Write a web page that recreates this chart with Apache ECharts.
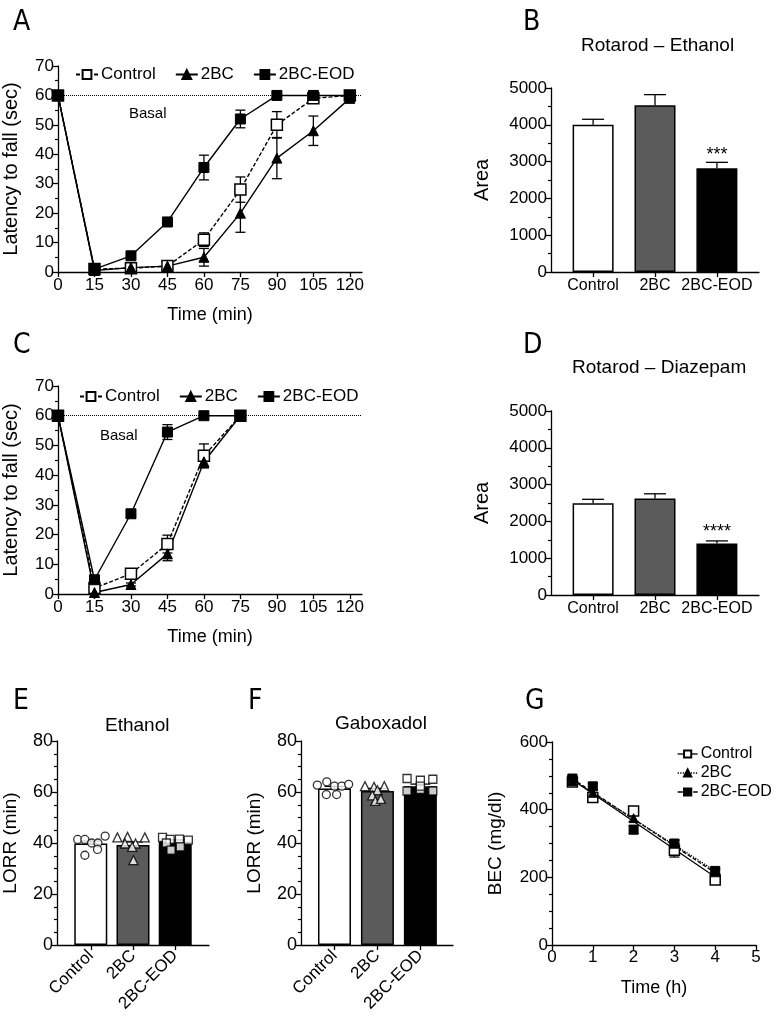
<!DOCTYPE html>
<html><head><meta charset="utf-8">
<script src="https://cdn.jsdelivr.net/npm/echarts@6/dist/echarts.min.js"></script>
<style>html,body{margin:0;padding:0;background:#fff}#c{width:780px;height:1021px}</style>
</head><body><div id="c"></div>
<script>
// ---------- DATA ----------
const timesA = [0, 15, 30, 45, 60, 75, 90, 105, 120];
const aControl = [60, 1, 1.3, 2, 11, 28, 50, 59, 60];
const aControlErr = [0, 0, 0, 0.5, 2.3, 4.3, 4.5, 1, 0.5];
const a2BC = [60, 0.5, 1.5, 2, 5, 20, 38.7, 48, 59];
const a2BCErr = [0, 0, 0, 0, 3, 6.5, 7, 5, 1];
const aEOD = [60, 1, 5.5, 17, 35.5, 52, 60, 60, 60];
const aEODErr = [0, 0, 0.8, 1.5, 4.2, 3, 0, 0, 0];

const timesC = [0, 15, 30, 45, 60, 75];
const cControl = [60, 2, 6.8, 16.8, 46.5, 60];
const cControlErr = [0, 0, 1.5, 3, 4, 0];
const c2BC = [60, 0.5, 3.2, 13.5, 44.5, 60];
const c2BCErr = [0, 0, 0.5, 2.3, 2, 0];
const cEOD = [60, 4.8, 27, 54.5, 60, 60];
const cEODErr = [0, 0, 1.2, 2.5, 0, 0];

const timeTicks = [0, 15, 30, 45, 60, 75, 90, 105, 120];
const groups = ['Control', '2BC', '2BC-EOD'];
const groupPos = [0, 1, 2];

const bMean = [4000, 4530, 2820];
const bErr = [150, 290, 160];
const bSig = ['', '', '***'];
const dMean = [2490, 2620, 1400];
const dErr = [110, 130, 70];
const dSig = ['', '', '****'];

const eMean = [39.8, 39.2, 40.5];
const eErr = [1.0, 1.2, 0.7];
const eCtrlPts = [41.4, 41.4, 40, 40, 42.7, 35.2, 37.5];
const eCtrlJit = [-0.31, -0.14, 0.02, 0.17, 0.34, -0.14, 0.16];
const e2BCPts = [42.2, 42.4, 42.2, 39.8, 39.8, 38.5, 33.3];
const e2BCJit = [-0.37, -0.13, 0.28, -0.19, 0.06, -0.02, 0.01];
const eEODPts = [42.2, 41.4, 41.5, 41.1, 40, 37.2, 38.5];
const eEODJit = [-0.30, -0.12, 0.10, 0.31, -0.21, -0.10, 0.12];

const fMean = [61.4, 60.4, 62.3];
const fErr = [0.8, 1.0, 0.8];
const fCtrlPts = [62.7, 64, 62.3, 62.3, 63, 59, 59];
const fCtrlJit = [-0.40, -0.18, 0, 0.17, 0.33, -0.19, 0.05];
const f2BCPts = [62.3, 62, 62.3, 60.7, 58.7, 56.5, 57.3];
const f2BCJit = [-0.29, -0.08, 0.16, 0, -0.12, -0.05, 0.08];
const fEODPts = [65.3, 64.6, 65, 60.4, 61, 60.4, 62.3];
const fEODJit = [-0.31, 0, 0.29, -0.31, 0, 0.29, 0];

const gTimes = [0.5, 1, 2, 3, 4];
const gControl = [482, 436, 396, 280, 192];
const gControlErr = [12, 12, 8, 20, 8];
const g2BC = [485, 450, 375, 300, 215];
const g2BCErr = [10, 10, 10, 10, 8];
const gEOD = [492, 469, 341, 300, 219];
const gEODErr = [10, 10, 12, 10, 8];
const gFitX = [0.5, 4];
const gFitControl = [488.6, 201.2];
const gFit2BC = [487.9, 219];
const gFitEOD = [491.2, 213.3];

// ---------- HELPERS ----------
const FONT = 'Liberation Sans, Arial, Helvetica, sans-serif';
const NARROW = 'Liberation Sans Narrow, DejaVu Sans Condensed, Liberation Sans, sans-serif';
const BLK = '#000';
const axisCommon = {
  axisLine: { show: true, onZero: false, lineStyle: { color: BLK, width: 1.3 } },
  axisTick: { show: true, length: 5, lineStyle: { color: BLK, width: 1.3 } },
  axisLabel: { color: BLK, fontSize: 17, fontFamily: FONT, margin: 4, formatter: v => String(v) },
  splitLine: { show: false },
  nameTextStyle: { color: BLK, fontSize: 18, fontFamily: FONT }
};
function yAx(grid, min, max, interval, minorSplit, name, gap, fs, nfs) {
  return Object.assign({}, axisCommon, {
    type: 'value', gridIndex: grid, min, max, interval,
    name, nameLocation: 'middle', nameGap: gap, nameRotate: 90,
    nameTextStyle: { color: BLK, fontSize: nfs || 18, fontFamily: FONT },
    axisLabel: Object.assign({}, axisCommon.axisLabel, { fontSize: fs || 17 }),
    minorTick: { show: true, splitNumber: minorSplit, length: 3, lineStyle: { color: BLK, width: 1.2 } }
  });
}
function zip(xs, ys) { return xs.map((x, i) => [x, ys[i]]); }
function errSeries(xi, xs, ys, es, cap, upOnly, stars, starGap) {
  return {
    type: 'custom', xAxisIndex: xi, yAxisIndex: xi, z: 1, silent: true,
    data: xs.map((x, i) => [x, ys[i], es[i], i]),
    renderItem: function (params, api) {
      const x = api.value(0), y = api.value(1), e = api.value(2), i = api.value(3);
      const top = api.coord([x, y + e]);
      const bot = api.coord([x, upOnly ? y : y - e]);
      const st = { stroke: BLK, lineWidth: 1.3 };
      const ch = [];
      if (e > 0) {
        ch.push({ type: 'line', shape: { x1: top[0], y1: top[1], x2: bot[0], y2: bot[1] }, style: st });
        ch.push({ type: 'line', shape: { x1: top[0] - cap, y1: top[1], x2: top[0] + cap, y2: top[1] }, style: st });
        if (!upOnly) ch.push({ type: 'line', shape: { x1: bot[0] - cap, y1: bot[1], x2: bot[0] + cap, y2: bot[1] }, style: st });
      }
      if (stars && stars[i]) {
        ch.push({ type: 'text', style: { text: stars[i], x: top[0], y: top[1] - starGap, align: 'center', verticalAlign: 'middle', fontSize: 18, fontFamily: FONT, fill: BLK } });
      }
      return { type: 'group', children: ch };
    }
  };
}
const sqOpen = { color: '#fff', borderColor: BLK, borderWidth: 1.5 };
const filled = { color: BLK, borderColor: BLK, borderWidth: 1 };
function lineSeries(name, xi, xs, ys, symbol, size, itemStyle, dash) {
  return {
    type: 'line', name, xAxisIndex: xi, yAxisIndex: xi, z: 3,
    data: zip(xs, ys), symbol, symbolSize: size, showAllSymbol: true,
    itemStyle, lineStyle: { color: BLK, width: 1.4, type: dash || 'solid' }
  };
}
function barSeries(xi, means, width) {
  const cols = ['#fff', '#5b5b5b', '#000'];
  return {
    type: 'bar', xAxisIndex: xi, yAxisIndex: xi, z: 2, barWidth: width, silent: true,
    data: groupPos.map((p, i) => ({ value: [p, means[i]], itemStyle: { color: cols[i], borderColor: BLK, borderWidth: 1.5 } }))
  };
}
function ptSeries(xi, center, jit, pts, symbol, size) {
  return {
    type: 'scatter', xAxisIndex: xi, yAxisIndex: xi, z: 4, silent: true,
    symbol, symbolSize: size,
    itemStyle: { color: '#fff', borderColor: BLK, borderWidth: 1.3 },
    data: pts.map((v, i) => [center + jit[i], v])
  };
}
function catX(grid, min, max, rotate) {
  return Object.assign({}, axisCommon, {
    type: 'value', gridIndex: grid, min, max,
    axisTick: Object.assign({}, axisCommon.axisTick, { customValues: groupPos }),
    axisLabel: Object.assign({}, axisCommon.axisLabel, {
      customValues: groupPos, rotate: rotate || 0, margin: rotate ? 8 : 6,
      fontSize: rotate ? 17 : 16,
      formatter: v => groups[Math.round(v)]
    })
  });
}
function timeX(grid) {
  return Object.assign({}, axisCommon, {
    type: 'value', gridIndex: grid, min: 0, max: 125, interval: 15,
    name: 'Time (min)', nameLocation: 'middle', nameGap: 34,
    axisTick: Object.assign({}, axisCommon.axisTick, { customValues: timeTicks }),
    axisLabel: Object.assign({}, axisCommon.axisLabel, { customValues: timeTicks, margin: 5 })
  });
}
const txt = (text, left, top, size, family) => ({ text, left, top, textStyle: { fontSize: size, fontWeight: 'normal', color: BLK, fontFamily: family || FONT } });
const basalLine = { silent: true, symbol: 'none', label: { show: false }, lineStyle: { type: 'dotted', color: BLK, width: 1 }, data: [{ yAxis: 60 }] };
const legText = { fontSize: 17, fontFamily: FONT, color: BLK, padding: [0, 0, 0, -2] };

const option = {
  animation: false,
  backgroundColor: '#fff',
  title: [
    txt('A', 8, 4, 28, NARROW), txt('B', 518, 4, 28, NARROW),
    txt('C', 8, 327, 28, NARROW), txt('D', 518, 327, 28, NARROW),
    txt('E', 8, 683, 28, NARROW), txt('F', 243, 683, 28, NARROW), txt('G', 520, 683, 28, NARROW),
    txt('Rotarod – Ethanol', 576, 31, 19), txt('Rotarod – Diazepam', 567, 353, 19),
    txt('Ethanol', 100, 711, 19), txt('Gaboxadol', 330, 709, 19),
    txt('Basal', 124, 101, 15), txt('Basal', 95, 423, 15)
  ],
  legend: [
    { data: ['A|Control', 'A|2BC', 'A|2BC-EOD'], left: 70, top: 61, itemWidth: 22, itemHeight: 11, itemGap: 19,
      formatter: n => n.split('|')[1], textStyle: legText },
    { data: ['C|Control', 'C|2BC', 'C|2BC-EOD'], left: 74, top: 383, itemWidth: 22, itemHeight: 11, itemGap: 19,
      formatter: n => n.split('|')[1], textStyle: legText },
    { data: [
        { name: 'G|Control', lineStyle: { width: 1.3, type: 'solid', color: BLK } },
        { name: 'G|2BC', lineStyle: { width: 1.3, type: 'dotted', color: BLK } },
        { name: 'G|2BC-EOD', lineStyle: { width: 1.3, type: 'dashed', color: BLK } }
      ], orient: 'vertical', left: 672, top: 741, itemWidth: 20, itemHeight: 9, itemGap: 3,
      formatter: n => n.split('|')[1], textStyle: { fontSize: 16, fontFamily: FONT, color: BLK, padding: [0, 0, 0, -2] } }
  ],
  grid: [
    { left: 56, top: 66, width: 306, height: 206 },   // A
    { left: 551, top: 88, width: 208, height: 184 },  // B
    { left: 56, top: 386, width: 306, height: 208 },  // C
    { left: 551, top: 411, width: 208, height: 184 }, // D
    { left: 55, top: 741, width: 154, height: 204 },  // E
    { left: 301, top: 741, width: 152, height: 204 }, // F
    { left: 552, top: 742, width: 204, height: 203 }  // G
  ],
  xAxis: [
    timeX(0),
    catX(1, -0.68, 2.68),
    timeX(2),
    catX(3, -0.68, 2.68),
    catX(4, -0.8, 2.8, 45),
    catX(5, -0.78, 2.76, 45),
    Object.assign({}, axisCommon, { type: 'value', gridIndex: 6, min: 0, max: 5, interval: 1,
      name: 'Time (h)', nameLocation: 'middle', nameGap: 34 })
  ],
  yAxis: [
    yAx(0, 0, 70, 10, 2, 'Latency to fall (sec)', 37, 17, 20),
    yAx(1, 0, 5000, 1000, 2, 'Area', 59, 17, 20),
    yAx(2, 0, 70, 10, 2, 'Latency to fall (sec)', 37, 17, 20),
    yAx(3, 0, 5000, 1000, 2, 'Area', 59, 17, 20),
    yAx(4, 0, 80, 20, 4, 'LORR (min)', 37, 18, 19),
    yAx(5, 0, 80, 20, 4, 'LORR (min)', 37, 18, 19),
    yAx(6, 0, 600, 200, 4, 'BEC (mg/dl)', 47, 17, 19)
  ],
  series: [
    // A
    errSeries(0, timesA, aControl, aControlErr, 5, false),
    errSeries(0, timesA, a2BC, a2BCErr, 5, false),
    errSeries(0, timesA, aEOD, aEODErr, 5, false),
    Object.assign(lineSeries('A|Control', 0, timesA, aControl, 'rect', 11, sqOpen, [4, 2]), { markLine: basalLine }),
    lineSeries('A|2BC', 0, timesA, a2BC, 'triangle', 10, filled),
    lineSeries('A|2BC-EOD', 0, timesA, aEOD, 'rect', 10, filled),
    // C
    errSeries(2, timesC, cControl, cControlErr, 5, false),
    errSeries(2, timesC, c2BC, c2BCErr, 5, false),
    errSeries(2, timesC, cEOD, cEODErr, 5, false),
    Object.assign(lineSeries('C|Control', 2, timesC, cControl, 'rect', 11, sqOpen, [4, 2]), { markLine: basalLine }),
    lineSeries('C|2BC', 2, timesC, c2BC, 'triangle', 10, filled),
    lineSeries('C|2BC-EOD', 2, timesC, cEOD, 'rect', 10, filled),
    // B
    barSeries(1, bMean, 41),
    errSeries(1, groupPos, bMean, bErr, 11, true, bSig, 7),
    // D
    barSeries(3, dMean, 41),
    errSeries(3, groupPos, dMean, dErr, 11, true, dSig, 9),
    // E
    barSeries(4, eMean, 33),
    errSeries(4, groupPos, eMean, eErr, 10, false),
    ptSeries(4, 0, eCtrlJit, eCtrlPts, 'circle', 8),
    ptSeries(4, 1, e2BCJit, e2BCPts, 'triangle', 9),
    ptSeries(4, 2, eEODJit, eEODPts, 'rect', 8),
    // F
    barSeries(5, fMean, 33),
    errSeries(5, groupPos, fMean, fErr, 10, false),
    ptSeries(5, 0, fCtrlJit, fCtrlPts, 'circle', 8),
    ptSeries(5, 1, f2BCJit, f2BCPts, 'triangle', 9),
    ptSeries(5, 2, fEODJit, fEODPts, 'rect', 8),
    // G
    errSeries(6, gTimes, gControl, gControlErr, 5, false),
    errSeries(6, gTimes, g2BC, g2BCErr, 5, false),
    errSeries(6, gTimes, gEOD, gEODErr, 5, false),
    { type: 'line', name: 'G|Control', xAxisIndex: 6, yAxisIndex: 6, z: 3, data: zip(gTimes, gControl), symbol: 'rect', symbolSize: 10,
      itemStyle: sqOpen, lineStyle: { width: 0, type: 'solid', color: BLK } },
    { type: 'line', name: 'G|2BC', xAxisIndex: 6, yAxisIndex: 6, z: 3, data: zip(gTimes, g2BC), symbol: 'triangle', symbolSize: 9,
      itemStyle: filled, lineStyle: { width: 0, type: 'dotted', color: BLK } },
    { type: 'line', name: 'G|2BC-EOD', xAxisIndex: 6, yAxisIndex: 6, z: 3, data: zip(gTimes, gEOD), symbol: 'rect', symbolSize: 9,
      itemStyle: filled, lineStyle: { width: 0, type: 'dashed', color: BLK } },
    { type: 'line', xAxisIndex: 6, yAxisIndex: 6, z: 2, silent: true, symbol: 'none', data: zip(gFitX, gFitControl), lineStyle: { color: BLK, width: 1.3 } },
    { type: 'line', xAxisIndex: 6, yAxisIndex: 6, z: 2, silent: true, symbol: 'none', data: zip(gFitX, gFit2BC), lineStyle: { color: BLK, width: 1.3, type: 'dotted' } },
    { type: 'line', xAxisIndex: 6, yAxisIndex: 6, z: 2, silent: true, symbol: 'none', data: zip(gFitX, gFitEOD), lineStyle: { color: BLK, width: 1.3, type: [4, 2] } }
  ]
};
const chart = echarts.init(document.getElementById('c'), null, { renderer: 'canvas' });
chart.setOption(option);
</script></body></html>
